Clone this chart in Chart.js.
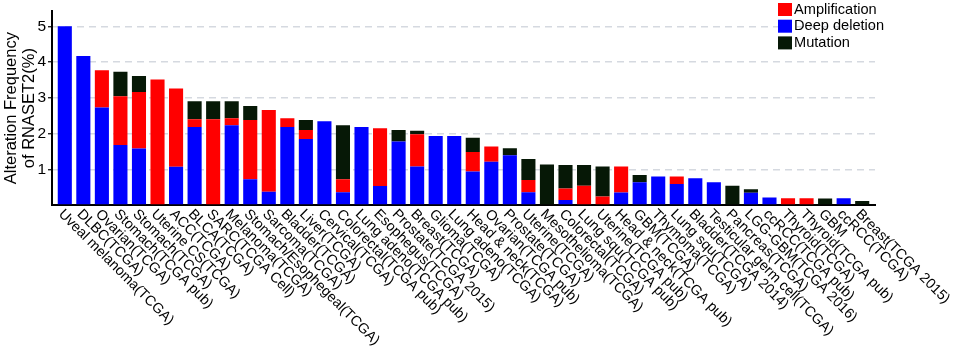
<!DOCTYPE html>
<html>
<head>
<meta charset="utf-8">
<script src="https://cdn.jsdelivr.net/npm/chart.js@4/dist/chart.umd.min.js"></script>
<style>
  html, body { margin: 0; padding: 0; background: #fff; }
  canvas { display: block; }
</style>
</head>
<body>
<canvas id="chart" width="957" height="350"></canvas>
<script>
const STUDIES = [
  'Uveal melanoma(TCGA)', 'DLBC(TCGA)', 'Ovarian(TCGA)', 'Stomach(TCGA pub)', 'Stomach(TCGA)',
  'Uterine CS(TCGA)', 'ACC(TCGA)', 'BLCA(TCGA)', 'SARC(TCGA Cell)', 'Melanoma(TCGA)',
  'Stomach/Esophegeal(TCGA)', 'Sarcoma(TCGA)', 'Bladder(TCGA)', 'Liver(TCGA)', 'Cervical(TCGA)',
  'Colorectal(TCGA pub)', 'Lung adeno(TCGA pub)', 'Esophegus(TCGA)', 'Prostate(TCGA 2015)', 'Breast(TCGA)',
  'Glioma(TCGA)', 'Lung adeno(TCGA)', 'Head & neck(TCGA)', 'Ovarian(TCGA pub)', 'Prostate(TCGA)',
  'Uterine(TCGA)', 'Mesothelioma(TCGA)', 'Colorectal(TCGA)', 'Lung squ(TCGA pub)', 'Uterine(TCGA pub)',
  'Head & neck(TCGA pub)', 'GBM(TCGA)', 'Thymoma(TCGA)', 'Lung squ(TCGA)', 'Bladder(TCGA 2014)',
  'Testicular germ cell(TCGA)', 'Pancreas(TCGA)', 'LGG-GBM(TCGA 2016)', 'ccRCC(TCGA pub)', 'Thyroid(TCGA)',
  'Thyroid(TCGA pub)', 'GBM', 'ccRCC(TCGA)', 'Breast(TCGA 2015)',
];

// percent of cases, one value per study
const DEEP_DELETION = [
  5.0, 4.17, 2.73, 1.68, 1.58, 0, 1.07, 2.18, 0, 2.23,
  0.72, 0.37, 2.18, 1.85, 2.34, 0.36, 2.18, 0.53, 1.78, 1.08,
  1.93, 1.93, 0.94, 1.21, 1.39, 0.36, 0, 0.14, 0, 0,
  0.35, 0.64, 0.80, 0.59, 0.75, 0.64, 0, 0.34, 0.21, 0,
  0, 0, 0.19, 0,
];
const AMPLIFICATION = [
  0, 0, 1.04, 1.36, 1.58, 3.51, 2.19, 0.22, 2.40, 0.20,
  1.66, 2.29, 0.25, 0.25, 0, 0.36, 0, 1.62, 0, 0.90,
  0, 0, 0.54, 0.43, 0, 0.34, 0, 0.32, 0.54, 0.24,
  0.73, 0, 0, 0.21, 0, 0, 0, 0, 0, 0.19,
  0.19, 0, 0, 0,
];
const MUTATION = [
  0, 0, 0, 0.69, 0.45, 0, 0, 0.50, 0.50, 0.47,
  0.39, 0, 0, 0.28, 0, 1.51, 0, 0, 0.32, 0.10,
  0, 0, 0.40, 0, 0.20, 0.59, 1.13, 0.66, 0.58, 0.84,
  0, 0.20, 0, 0, 0, 0, 0.54, 0.10, 0, 0,
  0, 0.18, 0, 0.11,
];

const Y_TICKS = [1, 2, 3, 4, 5];
const LEGEND_ORDER = ['Amplification', 'Deep deletion', 'Mutation'];

const FONT = 'Liberation Sans, Arial, sans-serif';
const COLORS = { amp: '#ff0000', del: '#0000ff', mut: '#061806', grid: '#d5d9e0' };

function points(values) {
  return values.map((value, index) => ({ x: index, y: value }));
}

// ggplot style labels: rotated clockwise, starting at the tick
const slantedLabels = {
  id: 'slantedLabels',
  afterDraw(chart) {
    const { ctx, chartArea } = chart;
    const scale = chart.scales.x;
    ctx.save();
    ctx.font = `14.3px ${FONT}`;
    ctx.fillStyle = '#000';
    ctx.textAlign = 'left';
    ctx.textBaseline = 'top';
    STUDIES.forEach((label, index) => {
      ctx.save();
      ctx.translate(scale.getPixelForValue(index) + 1, chartArea.bottom + 2);
      ctx.rotate(Math.PI / 4);
      ctx.fillText(label, 0, 0);
      ctx.restore();
    });
    ctx.restore();
  },
};

const cornerLegend = {
  id: 'cornerLegend',
  afterDraw(chart) {
    const { ctx } = chart;
    const left = 778;
    const top = 3;
    const step = 16.7;
    ctx.save();
    ctx.font = `14.6px ${FONT}`;
    ctx.textAlign = 'left';
    ctx.textBaseline = 'middle';
    LEGEND_ORDER.forEach((name, index) => {
      const ds = chart.data.datasets.find((d) => d.label === name);
      const y = top + index * step;
      ctx.fillStyle = ds.backgroundColor;
      ctx.fillRect(left, y, 14, 13);
      ctx.fillStyle = '#000';
      ctx.fillText(name, left + 16, y + 6.5);
    });
    ctx.restore();
  },
};

const bar = { barPercentage: 0.76, categoryPercentage: 1, borderWidth: 0 };

new Chart(document.getElementById('chart'), {
  type: 'bar',
  data: {
    datasets: [
      { label: 'Deep deletion', data: points(DEEP_DELETION), backgroundColor: COLORS.del, ...bar },
      { label: 'Amplification', data: points(AMPLIFICATION), backgroundColor: COLORS.amp, ...bar },
      { label: 'Mutation', data: points(MUTATION), backgroundColor: COLORS.mut, ...bar },
    ],
  },
  options: {
    responsive: false,
    animation: false,
    layout: { padding: { top: 3, right: 82, bottom: 145, left: 0 } },
    plugins: { legend: { display: false }, tooltip: { enabled: false } },
    scales: {
      x: {
        type: 'linear',
        stacked: true,
        min: -0.69,
        max: STUDIES.length - 1 + 0.69,
        offset: false,
        grid: { display: false },
        ticks: { display: false },
        border: { color: '#000', width: 2 },
        afterFit(scale) { scale.height = 0; },
      },
      y: {
        stacked: true,
        min: 0,
        max: 5.42,
        afterFit(scale) { scale.width = 52; },
        afterBuildTicks(scale) {
          scale.ticks = [0, ...Y_TICKS].map((value) => ({ value }));
        },
        ticks: {
          includeBounds: false,
          padding: 2,
          color: '#000',
          font: { family: FONT, size: 15.5 },
          callback: (value) => (value === 0 ? '' : value),
        },
        grid: {
          color: (c) => (c.tick && c.tick.value === 0 ? 'rgba(0,0,0,0)' : COLORS.grid),
          lineWidth: 1.5,
          tickLength: 4,
          tickColor: (c) => (c.tick && c.tick.value === 0 ? 'rgba(0,0,0,0)' : '#000'),
          tickWidth: 1.2,
          tickBorderDash: [],
        },
        border: { color: '#000', width: 2, dash: [7, 5] },
        title: {
          display: true,
          text: ['Alteration Frequency', 'of RNASET2(%)'],
          color: '#000',
          font: { family: FONT, size: 16.5, lineHeight: 1.06 },
          padding: { top: 3, bottom: 0 },
        },
      },
    },
  },
  plugins: [slantedLabels, cornerLegend],
});
</script>
</body>
</html>
